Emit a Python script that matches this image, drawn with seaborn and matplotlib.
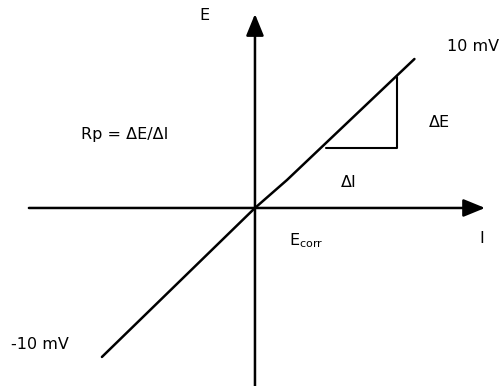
import matplotlib
matplotlib.use("Agg")
import matplotlib.pyplot as plt
import seaborn as sns
import pandas as pd

# Linear polarization curve around the corrosion potential
current = [-10.27, 0.0, 2.15, 10.7]      # I (arbitrary units)
potential = [-10.0, 0.0, 1.88, 10.0]     # E - Ecorr (mV)

# Slope triangle on the curve
tri_current = [4.77, 9.53, 9.53]
tri_potential = [4.03, 4.03, 8.79]

labels = {
    "E": (-3.36, 12.95),
    "10 mV": (14.63, 10.87),
    "ΔE": (12.35, 5.77),
    "Rp = ΔE/ΔI": (-8.72, 4.9),
    "ΔI": (6.31, 1.74),
    "I": (15.23, -2.08),
    "-10 mV": (-14.43, -9.19),
}

sns.set_theme(style="white")
plt.rcParams["font.family"] = ["DejaVu Sans"]

fig = plt.figure(figsize=(5.01, 3.86), dpi=100)
ax = fig.add_axes([0, 0, 1, 1])
ax.set_xlim(-17.11, 16.51)
ax.set_ylim(-11.95, 13.96)
ax.axis("off")

df = pd.DataFrame({"I": current, "E": potential})
sns.lineplot(data=df, x="I", y="E", ax=ax, color="black", linewidth=1.8,
             sort=False, estimator=None)

tri = pd.DataFrame({"I": tri_current, "E": tri_potential})
sns.lineplot(data=tri, x="I", y="E", ax=ax, color="black", linewidth=1.5,
             sort=False, estimator=None)

# Coordinate axes with arrow heads
arrow = dict(arrowstyle="-|>,head_length=1.1,head_width=0.45",
             color="black", lw=1.8, shrinkA=0, shrinkB=0)
ax.annotate("", xy=(15.44, 0), xytext=(-15.17, 0), arrowprops=arrow)
ax.annotate("", xy=(0, 13.02), xytext=(0, -12.2), arrowprops=arrow)

for text, (x, y) in labels.items():
    ax.text(x, y, text, ha="center", va="center", fontsize=11.5,
            color="black")

ax.text(2.28, -2.2, r"E$_{\mathrm{corr}}$", ha="left", va="center",
        fontsize=11.5, color="black")

fig.savefig("out.png", dpi=100, facecolor="white")
